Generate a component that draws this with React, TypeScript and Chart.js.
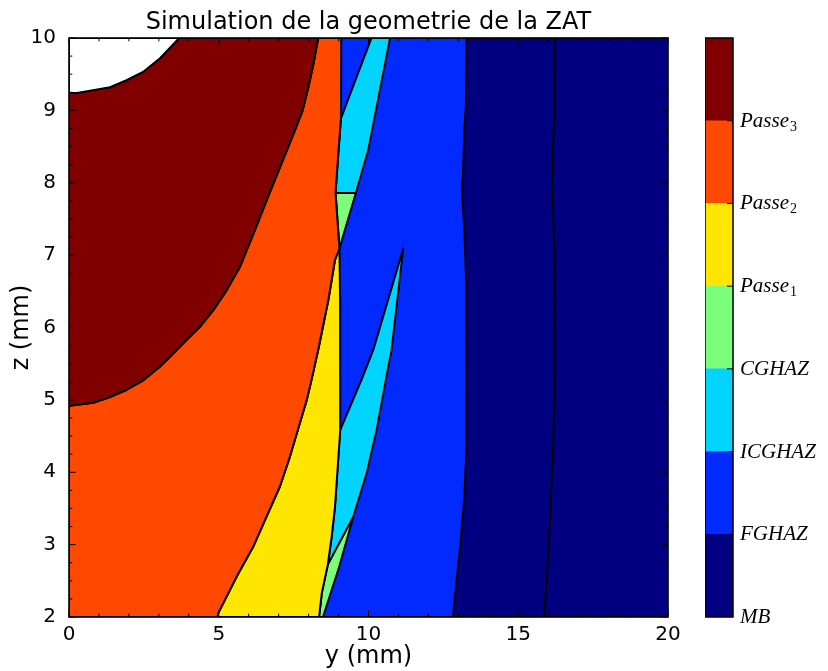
import React, { useEffect, useRef } from 'react';
import { Chart, registerables } from 'chart.js';
Chart.register(...registerables);

type P = [number, number];

// ---------- axes / ticks ----------
const xMajorTicks = [0, 5, 10, 15, 20];
const yMajorTicks = [2, 3, 4, 5, 6, 7, 8, 9, 10];
const xMinorPerMajor = 5;
const yMinorPerMajor = 4;

// ---------- colorbar ----------
const zoneNames = ['MB', 'FGHAZ', 'ICGHAZ', 'CGHAZ', 'Passe', 'Passe', 'Passe'];
const zoneSubs = ['', '', '', '', '1', '2', '3'];
const zoneColors = ['#000080', '#002AFF', '#00D4FF', '#7BFF7B', '#FFE600', '#FF4800', '#800000'];
const zoneBands = [1, 1, 1, 1, 1, 1, 1];

// ---------- contour boundaries (y mm, z mm) ----------
const whiteEdge: P[] = [[0, 9.24], [0.27, 9.24], [0.8, 9.28], [1.37, 9.32], [1.94, 9.42], [2.47, 9.53], [3.04, 9.72], [3.68, 10]];
const redEdge: P[] = [[0, 4.92], [0.81, 4.96], [1.37, 5.04], [1.93, 5.14], [2.48, 5.27], [3.04, 5.46], [3.48, 5.64], [3.93, 5.83], [4.37, 6.01], [4.82, 6.24], [5.27, 6.52], [5.71, 6.84], [6.21, 7.35], [6.65, 7.81], [7.1, 8.27], [7.55, 8.73], [7.8, 9.0], [7.98, 9.3], [8.15, 9.62], [8.32, 10]];
const orangeRightEdge: P[] = [[9.09, 10], [9.08, 8.89], [9.0, 8.45], [8.9, 7.86], [9.03, 7.09]];
const yellowLeftEdge: P[] = [[9.03, 7.09], [8.88, 6.93], [8.66, 6.38], [8.32, 5.69], [8.1, 5.28], [7.94, 5.0], [7.71, 4.68], [7.38, 4.22], [7.04, 3.8], [6.6, 3.39], [6.15, 2.97], [5.6, 2.56], [4.98, 2.05], [4.96, 2]];
const yellowRightEdge: P[] = [[9.03, 7.09], [9.05, 6.42], [9.07, 5.69], [9.05, 5.28], [9.05, 4.58], [8.88, 3.52], [8.77, 3.11], [8.64, 2.72], [8.44, 2.33], [8.35, 2]];
const cyanUpper: P[] = [[10.1, 10], [10.72, 10], [9.99, 8.45], [9.58, 7.86], [8.9, 7.86], [9.0, 8.45], [9.08, 8.89]];
const greenUpper: P[] = [[8.9, 7.86], [9.58, 7.86], [9.03, 7.09]];
const cyanLower: P[] = [[11.16, 7.09], [10.77, 5.69], [10.58, 5.28], [10.27, 4.58], [9.94, 3.99], [9.49, 3.38], [8.64, 2.72], [8.77, 3.11], [8.88, 3.52], [9.05, 4.58], [9.77, 5.28], [10.16, 5.69]];
const greenLower: P[] = [[9.49, 3.38], [9.02, 2.69], [8.48, 2], [8.35, 2], [8.44, 2.33], [8.64, 2.72]];
const navyEdge: P[] = [[13.28, 10], [13.25, 9.05], [13.2, 8.73], [13.15, 8.04], [13.13, 7.81], [13.2, 7.35], [13.26, 6.66], [13.28, 5.97], [13.28, 5.28], [13.26, 4.35], [13.2, 3.66], [13.06, 2.97], [12.92, 2.42], [12.83, 2.05], [12.82, 2]];
const mbEdge: P[] = [[16.23, 10], [16.22, 9.05], [16.17, 8.59], [16.12, 7.86], [16.17, 7.53], [16.22, 6.89], [16.23, 5.97], [16.23, 5.28], [16.16, 4.31], [16.06, 3.34], [15.99, 2.79], [15.86, 2]];
const plotBox: P[] = [[0, 2], [0, 10], [20, 10], [20, 2]];

const rev = (a: P[]) => a.slice().reverse();

// painter's order: bottom first
const layers: { pts: P[]; color: string | null }[] = [
  { pts: plotBox, color: zoneColors[0] },
  { pts: mbEdge, color: null },
  { pts: [[0, 2], [0, 10], ...navyEdge], color: zoneColors[1] },
  { pts: cyanUpper, color: zoneColors[2] },
  { pts: greenUpper, color: zoneColors[3] },
  { pts: cyanLower, color: zoneColors[2] },
  { pts: greenLower, color: zoneColors[3] },
  { pts: [...yellowRightEdge, ...rev(yellowLeftEdge)], color: zoneColors[4] },
  { pts: [[0, 2], ...rev(yellowLeftEdge), ...rev(orangeRightEdge), ...rev(redEdge)], color: zoneColors[5] },
  { pts: [...redEdge, ...rev(whiteEdge)], color: zoneColors[6] },
  { pts: [...whiteEdge, [0, 10]], color: '#FFFFFF' },
];

const FONT = '"DejaVu Sans", sans-serif';

const framePlugin = {
  id: 'frameTicks',
  afterDraw(chart: any) {
    const { ctx, chartArea: a, scales } = chart;
    const xs = scales.x;
    const ys = scales.y;
    ctx.save();
    ctx.strokeStyle = '#000';
    ctx.lineWidth = 1;
    const major = 6.7;
    const minor = 3.3;
    const line = (x1: number, y1: number, x2: number, y2: number) => {
      ctx.beginPath();
      ctx.moveTo(x1, y1);
      ctx.lineTo(x2, y2);
      ctx.stroke();
    };
    for (let i = 0; i < xMajorTicks.length; i++) {
      const v = xMajorTicks[i];
      const px = xs.getPixelForValue(v);
      line(px, a.bottom, px, a.bottom - major);
      line(px, a.top, px, a.top + major);
      if (i < xMajorTicks.length - 1) {
        const step = (xMajorTicks[i + 1] - v) / xMinorPerMajor;
        for (let k = 1; k < xMinorPerMajor; k++) {
          const mx = xs.getPixelForValue(v + k * step);
          line(mx, a.bottom, mx, a.bottom - minor);
          line(mx, a.top, mx, a.top + minor);
        }
      }
    }
    for (let i = 0; i < yMajorTicks.length; i++) {
      const v = yMajorTicks[i];
      const py = ys.getPixelForValue(v);
      line(a.left, py, a.left + major, py);
      line(a.right, py, a.right - major, py);
      if (i < yMajorTicks.length - 1) {
        const step = (yMajorTicks[i + 1] - v) / yMinorPerMajor;
        for (let k = 1; k < yMinorPerMajor; k++) {
          const my = ys.getPixelForValue(v + k * step);
          line(a.left, my, a.left + minor, my);
          line(a.right, my, a.right - minor, my);
        }
      }
    }
    ctx.lineWidth = 1.6;
    ctx.strokeRect(a.left, a.top, a.right - a.left, a.bottom - a.top);
    ctx.restore();
  },
};

const cbPlugin = {
  id: 'cbDeco',
  afterDraw(chart: any) {
    const { ctx, chartArea: a } = chart;
    const ys = chart.scales.y;
    ctx.save();
    ctx.strokeStyle = '#000';
    ctx.lineWidth = 1;
    for (let i = 1; i < zoneNames.length; i++) {
      const py = ys.getPixelForValue(i);
      ctx.beginPath();
      ctx.moveTo(a.right - 6, py);
      ctx.lineTo(a.right, py);
      ctx.stroke();
    }
    ctx.lineWidth = 1.5;
    ctx.strokeRect(a.left, a.top, a.right - a.left, a.bottom - a.top);
    ctx.fillStyle = '#000';
    ctx.textAlign = 'left';
    ctx.textBaseline = 'alphabetic';
    zoneNames.forEach((name, i) => {
      const py = ys.getPixelForValue(i);
      ctx.font = 'italic 21px "Liberation Serif", serif';
      const x0 = a.right + 7;
      ctx.fillText(name, x0, py + 6);
      if (zoneSubs[i]) {
        const w = ctx.measureText(name).width;
        ctx.font = '14px "Liberation Serif", serif';
        ctx.fillText(zoneSubs[i], x0 + w + 1, py + 10);
      }
    });
    ctx.restore();
  },
};

export default function App() {
  const mainRef = useRef<HTMLCanvasElement | null>(null);
  const cbRef = useRef<HTMLCanvasElement | null>(null);

  useEffect(() => {
    const N = layers.length;
    const datasets = layers.map((l, i) => {
      const pts = l.color ? [...l.pts, l.pts[0]] : l.pts; // close polygons
      return {
        data: pts.map(([x, y]) => ({ x, y })),
        borderColor: '#000',
        borderWidth: 2,
        borderJoinStyle: 'round' as const,
        borderCapStyle: 'round' as const,
        backgroundColor: l.color || 'rgba(0,0,0,0)',
        fill: l.color ? 'shape' : false,
        pointRadius: 0,
        tension: 0,
        order: N - i,
      };
    });

    const main = new Chart(mainRef.current as HTMLCanvasElement, {
      type: 'line',
      data: { datasets: datasets as any },
      options: {
        responsive: false,
        animation: false,
        events: [],
        layout: { autoPadding: false, padding: { left: 0, right: 32, top: 0, bottom: 0 } },
        plugins: {
          legend: { display: false },
          tooltip: { enabled: false },
          title: {
            display: true,
            text: 'Simulation de la geometrie de la ZAT',
            fullSize: false,
            color: '#000',
            font: { family: FONT, size: 24, weight: 'normal', lineHeight: 1.2 },
            padding: { top: 8, bottom: 1.2 },
          },
        },
        scales: {
          x: {
            type: 'linear',
            min: 0,
            max: 20,
            afterBuildTicks: (s: any) => {
              s.ticks = xMajorTicks.map((v) => ({ value: v }));
            },
            afterFit: (s: any) => {
              s.height = 54;
            },
            grid: { display: false },
            border: { display: false },
            ticks: { padding: -2, color: '#000', font: { family: FONT, size: 20 }, maxRotation: 0, autoSkip: false },
            title: { display: true, text: 'y (mm)', color: '#000', font: { family: FONT, size: 24 }, padding: { top: 0, bottom: 0 } },
          },
          y: {
            type: 'linear',
            min: 2,
            max: 10,
            afterBuildTicks: (s: any) => {
              s.ticks = yMajorTicks.map((v) => ({ value: v }));
            },
            afterFit: (s: any) => {
              s.width = 69;
            },
            grid: { display: false },
            border: { display: false },
            ticks: { padding: 5, color: '#000', font: { family: FONT, size: 20 }, autoSkip: false },
            title: { display: true, text: 'z (mm)', color: '#000', font: { family: FONT, size: 24 }, padding: { top: 7.6, bottom: 0 } },
          },
        },
      } as any,
      plugins: [framePlugin],
    });

    const cb = new Chart(cbRef.current as HTMLCanvasElement, {
      type: 'bar',
      data: {
        labels: [''],
        datasets: zoneColors.map((c, i) => ({
          data: [zoneBands[i]],
          backgroundColor: c,
          borderWidth: 0,
          barPercentage: 1,
          categoryPercentage: 1,
        })),
      },
      options: {
        responsive: false,
        animation: false,
        events: [],
        layout: { autoPadding: false, padding: { left: 0, right: 95, top: 15, bottom: 15 } },
        plugins: { legend: { display: false }, tooltip: { enabled: false } },
        scales: {
          x: { display: false, stacked: true },
          y: { display: false, stacked: true, min: 0, max: 7 },
        },
      } as any,
      plugins: [cbPlugin],
    });

    return () => {
      main.destroy();
      cb.destroy();
    };
  }, []);

  return (
    <div style={{ position: 'absolute', left: 0, top: 0, width: 828, height: 671, background: '#fff' }}>
      <canvas ref={mainRef} width={700} height={671} style={{ position: 'absolute', left: 0, top: 0, width: 700, height: 671 }} />
      <canvas ref={cbRef} width={123} height={609} style={{ position: 'absolute', left: 705, top: 23, width: 123, height: 609 }} />
    </div>
  );
}
